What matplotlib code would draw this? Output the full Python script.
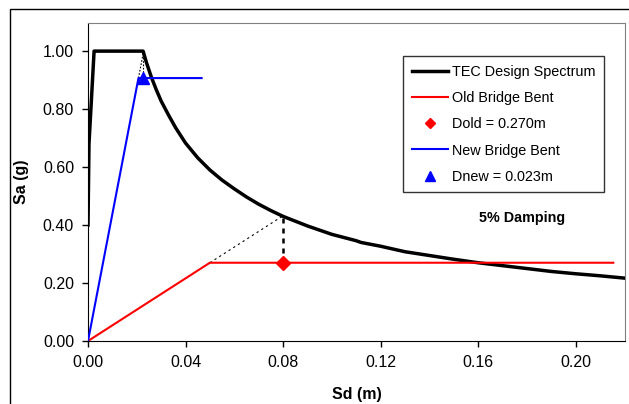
import numpy as np
import matplotlib
matplotlib.use("Agg")
import matplotlib.pyplot as plt
from matplotlib.patches import Rectangle

# TEC design spectrum
sd_tec = [0.0, 0.0004, 0.0025, 0.0226, 0.024, 0.026, 0.028, 0.030, 0.033, 0.036,
          0.040, 0.045, 0.050, 0.055, 0.060, 0.065, 0.070, 0.075, 0.080, 0.09, 0.10,
          0.11, 0.112, 0.12, 0.13, 0.14, 0.15, 0.16, 0.17, 0.18, 0.19, 0.20, 0.21, 0.22]
sa_tec = [0.40, 0.68, 1.00, 1.00, 0.96, 0.91, 0.867, 0.828, 0.78, 0.735,
          0.683, 0.632, 0.59, 0.555, 0.525, 0.497, 0.472, 0.45, 0.43, 0.397, 0.368,
          0.346, 0.340, 0.327, 0.308, 0.295, 0.282, 0.270, 0.260, 0.250, 0.240, 0.232,
          0.225, 0.217]

# bridge bents (capacity curves)
sd_old = [0.0, 0.050, 0.2155]
sa_old = [0.0, 0.270, 0.270]
sd_new = [0.0, 0.0207, 0.0466]
sa_new = [0.0, 0.907, 0.907]

# performance points
dold = (0.080, 0.270)
dnew = (0.0226, 0.907)

plt.rcParams['font.family'] = ['Liberation Sans', 'DejaVu Sans']

fig = plt.figure(figsize=(6.29, 4.04), dpi=100)
ax = fig.add_axes([88/629, 1-341/404, (625-88)/629, (341-23)/404])

# outer chart frame
fig.patches.append(Rectangle((10/629, -0.05), 1.0, 1-9/404+0.05, transform=fig.transFigure,
                             fill=False, edgecolor='black', linewidth=1.0))

ax.plot(sd_tec, sa_tec, color='black', linewidth=2.5, label='TEC Design Spectrum', zorder=3,
        solid_joinstyle='round')
ax.plot(sd_old, sa_old, color='red', linewidth=1.5, label='Old Bridge Bent', zorder=4)
ax.plot(dold[0], dold[1], marker='D', color='red', markersize=7, linestyle='none',
        label='Dold = 0.270m', zorder=5)
ax.plot(sd_new, sa_new, color='blue', linewidth=1.5, label='New Bridge Bent', zorder=4)
ax.plot(dnew[0], dnew[1], marker='^', color='blue', markersize=9, linestyle='none',
        label='Dnew = 0.023m', zorder=5)

# elastic extension lines and drops
ax.plot([sd_old[1], dold[0]], [sa_old[1], 0.432], color='black', linestyle=(0, (2, 3)),
        linewidth=0.8, zorder=2)
ax.plot([dold[0], dold[0]], [0.425, dold[1]], color='black', linestyle=(0, (2, 2)),
        linewidth=1.8, zorder=2)
ax.plot([sd_new[1], dnew[0]], [sa_new[1], 0.99], color='black', linestyle=(0, (1.5, 1.5)),
        linewidth=0.8, zorder=2)
ax.plot([dnew[0], dnew[0]], [0.99, dnew[1]], color='black', linestyle=(0, (1.5, 1.5)),
        linewidth=0.8, zorder=2)

ax.set_xlim(0, 0.2203)
ax.set_ylim(0, 1.097)
ax.set_xticks([0.0, 0.04, 0.08, 0.12, 0.16, 0.20])
ax.set_xticklabels(['0.00', '0.04', '0.08', '0.12', '0.16', '0.20'])
ax.set_yticks([0.0, 0.2, 0.4, 0.6, 0.8, 1.0])
ax.set_yticklabels(['0.00', '0.20', '0.40', '0.60', '0.80', '1.00'])
ax.tick_params(direction='out', length=4, width=1, labelsize=11.5, pad=6)

for s in ['top', 'right']:
    ax.spines[s].set_color('#808080')
for s in ['left', 'bottom']:
    ax.spines[s].set_color('black')

ax.set_xlabel('Sd (m)', fontsize=11.5, fontweight='bold', labelpad=12)
ax.set_ylabel('Sa (g)', fontsize=11.5, fontweight='bold', labelpad=10)

ax.text(0.178, 0.424, '5% Damping', fontsize=10.3, fontweight='bold', ha='center', va='center')

leg = ax.legend(loc='upper left', bbox_to_anchor=((403-88)/537, (341-56)/318),
                fontsize=10.4, frameon=True, fancybox=False, edgecolor='black',
                handlelength=2.5, handletextpad=0.3, labelspacing=0.85,
                borderpad=0.6, borderaxespad=0, markerscale=0.75)
leg.get_frame().set_linewidth(1.0)

fig.savefig('out.png', dpi=100)
